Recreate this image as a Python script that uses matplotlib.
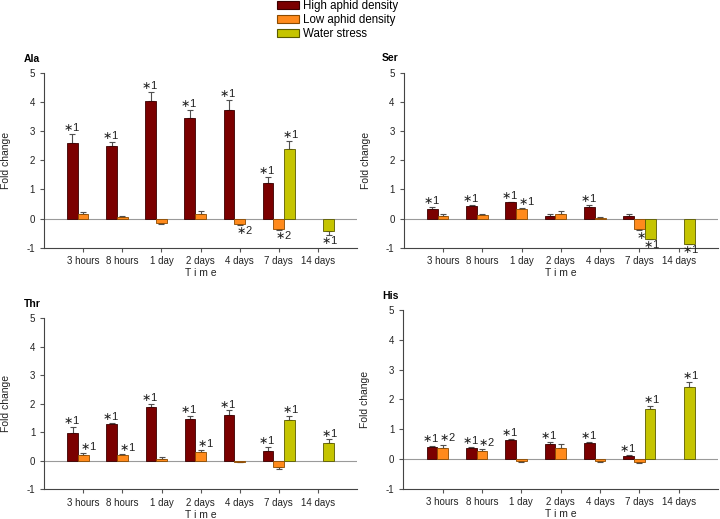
import matplotlib
matplotlib.use("Agg")
import matplotlib.pyplot as plt
from matplotlib.patches import Patch
import numpy as np

plt.rcParams["font.family"] = ["Liberation Sans", "DejaVu Sans"]
plt.rcParams["axes.unicode_minus"] = False

times = ["3 hours", "8 hours", "1 day", "2 days", "4 days", "7 days", "14 days"]
series_names = ["High aphid density", "Low aphid density", "Water stress"]
colors = ["#7b0000", "#ff8a1c", "#c5c400"]
edge_colors = ["#3a0000", "#8a4a00", "#5a5a00"]

# values / one-sided errors, None where no bar was drawn
ala_high = [2.59, 2.49, 4.03, 3.45, 3.72, 1.22, None]
ala_high_err = [0.30, 0.12, 0.30, 0.27, 0.34, 0.20, None]
ala_low = [0.15, 0.05, -0.15, 0.15, -0.19, -0.36, None]
ala_low_err = [0.07, 0.02, 0.03, 0.10, 0.03, 0.03, None]
ala_water = [None, None, None, None, None, 2.40, -0.42]
ala_water_err = [None, None, None, None, None, 0.26, 0.15]
ala_marks = [("*1", "*1", "*1", "*1", "*1", "*1", ""),
             ("", "", "", "", "*2", "*2", ""),
             ("", "", "", "", "", "*1", "*1")]

ser_high = [0.31, 0.44, 0.55, 0.10, 0.40, 0.10, None]
ser_high_err = [0.10, 0.02, 0.03, 0.05, 0.05, 0.05, None]
ser_low = [0.08, 0.13, 0.32, 0.15, 0.03, -0.35, None]
ser_low_err = [0.06, 0.04, 0.03, 0.10, 0.01, 0.04, None]
ser_water = [None, None, None, None, None, -0.69, -0.86]
ser_water_err = [None, None, None, None, None, 0.02, 0.01]
ser_marks = [("*1", "*1", "*1", "", "*1", "", ""),
             ("", "", "*1", "", "", "*1", ""),
             ("", "", "", "", "", "*1", "*1")]

thr_high = [0.97, 1.28, 1.89, 1.47, 1.62, 0.36, None]
thr_high_err = [0.21, 0.06, 0.11, 0.10, 0.15, 0.12, None]
thr_low = [0.19, 0.19, 0.08, 0.30, -0.03, -0.22, None]
thr_low_err = [0.08, 0.06, 0.07, 0.09, 0.01, 0.06, None]
thr_water = [None, None, None, None, None, 1.42, 0.63]
thr_water_err = [None, None, None, None, None, 0.15, 0.12]
thr_marks = [("*1", "*1", "*1", "*1", "*1", "*1", ""),
             ("*1", "*1", "", "*1", "", "", ""),
             ("", "", "", "", "", "*1", "*1")]

his_high = [0.39, 0.37, 0.62, 0.51, 0.55, 0.11, None]
his_high_err = [0.06, 0.03, 0.05, 0.06, 0.02, 0.02, None]
his_low = [0.36, 0.27, -0.07, 0.37, -0.07, -0.12, None]
his_low_err = [0.12, 0.07, 0.02, 0.12, 0.02, 0.03, None]
his_water = [None, None, None, None, None, 1.69, 2.42]
his_water_err = [None, None, None, None, None, 0.07, 0.17]
his_marks = [("*1", "*1", "*1", "*1", "*1", "*1", ""),
             ("*2", "*2", "", "", "", "", ""),
             ("", "", "", "", "", "*1", "*1")]

panels = [
    ("Ala", (ala_high, ala_low, ala_water), (ala_high_err, ala_low_err, ala_water_err), ala_marks),
    ("Ser", (ser_high, ser_low, ser_water), (ser_high_err, ser_low_err, ser_water_err), ser_marks),
    ("Thr", (thr_high, thr_low, thr_water), (thr_high_err, thr_low_err, thr_water_err), thr_marks),
    ("His", (his_high, his_low, his_water), (his_high_err, his_low_err, his_water_err), his_marks),
]

W, H = 720, 519
# axes boxes in pixels: left, top(y=5), right, bottom(y=-1)
boxes = [(44, 72.7, 357, 247.7), (403.7, 72.7, 718, 247.7),
         (44.3, 318.3, 357, 489.3), (403.3, 310, 718, 488.7)]
title_pos = [(24, 59), (382, 58), (24, 304), (382, 296)]
# horizontal nudge of the significance labels per series
mark_dx = [-0.03, 0.12, 0.03]

fig = plt.figure(figsize=(W / 100, H / 100), dpi=100)
x = np.arange(len(times))
bw = 0.273


def star_text(s):
    # the asterisk in the original sits mid-height, like a math operator
    return r"$\ast$" + s[1:]


for (name, vals, errs, marks), box, tpos in zip(panels, boxes, title_pos):
    l, t, r, b = box
    ax = fig.add_axes([l / W, 1 - b / H, (r - l) / W, (b - t) / H])
    ax.axhline(0, color="#9a9a9a", lw=0.8, zorder=1)
    for k in range(3):
        xs = x + (k - 1) * bw
        for i in range(len(times)):
            v = vals[k][i]
            if v is None:
                continue
            e = errs[k][i]
            ax.bar(xs[i], v, width=bw, color=colors[k], edgecolor=edge_colors[k],
                   linewidth=0.6, zorder=3)
            yerr = [[0], [e]] if v >= 0 else [[e], [0]]
            ax.errorbar(xs[i], v, yerr=yerr, fmt="none", ecolor="#505050",
                        elinewidth=0.8, capsize=2.5, capthick=0.8, zorder=2)
            m = marks[k][i]
            if m:
                ty = v + e + 0.24 if v >= 0 else v - e - 0.17
                ax.text(xs[i] + mark_dx[k], ty, star_text(m), ha="center", va="center",
                        fontsize=8, color="#222222")
    ax.set_xlim(-1, 7)
    ax.set_ylim(-1, 5)
    ax.set_yticks(range(-1, 6))
    ax.set_xticks(x)
    ax.set_xticklabels(times)
    ax.tick_params(axis="both", labelsize=7, length=3, width=0.8, color="#555555",
                   labelcolor="#222222")
    ax.tick_params(axis="x", pad=3)
    for s in ["top", "right"]:
        ax.spines[s].set_visible(False)
    for s in ["left", "bottom"]:
        ax.spines[s].set_color("#444444")
        ax.spines[s].set_linewidth(0.8)
    hpx = b - t
    ax.set_ylabel("Fold change", fontsize=7.5, color="#222222")
    ax.yaxis.set_label_coords(-33 / (r - l), 0.5)
    ax.set_xlabel("T i m e", fontsize=7.5, color="#222222")
    ax.xaxis.set_label_coords(0.5, -20.5 / hpx)
    fig.text(tpos[0] / W, 1 - tpos[1] / H, name, fontsize=7.5, fontweight="bold",
             ha="left", va="center")

handles = [Patch(facecolor=c, edgecolor=ec, linewidth=0.8) for c, ec in zip(colors, edge_colors)]
fig.legend(handles, series_names, loc="upper left", bbox_to_anchor=(277 / W, 1.0),
           frameon=False, fontsize=8.3, handlelength=1.9, handleheight=0.7,
           handletextpad=0.35, labelspacing=0.17, borderpad=0, borderaxespad=0)

fig.savefig("out.png", dpi=100)
